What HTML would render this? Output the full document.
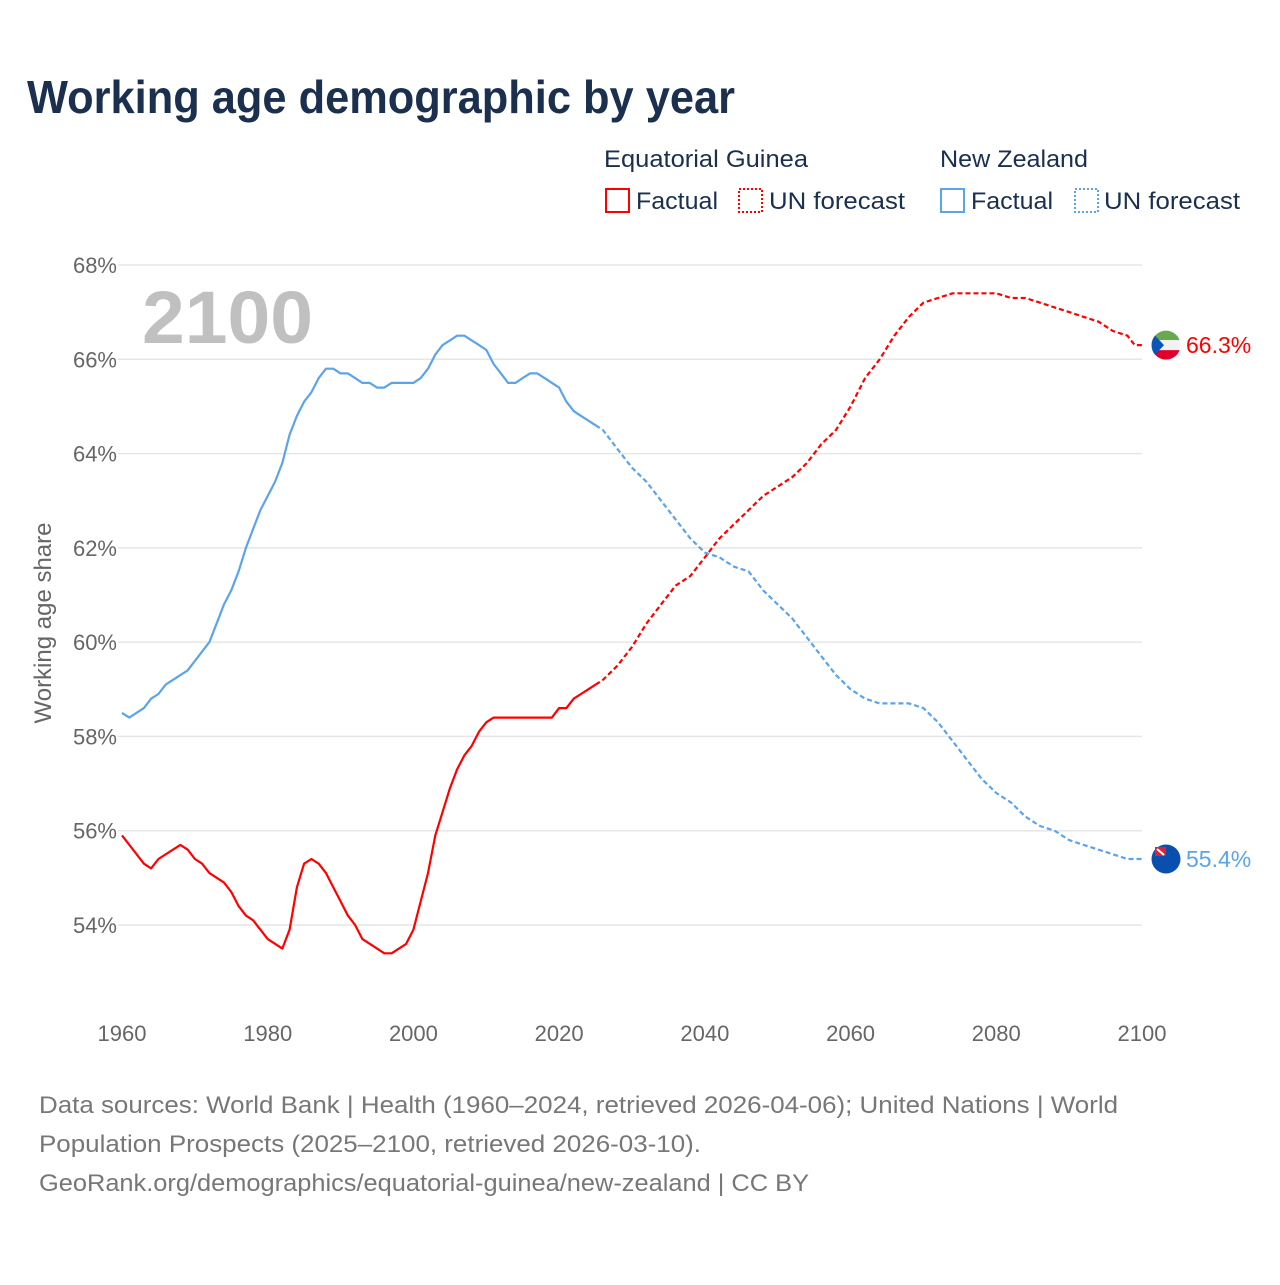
<!DOCTYPE html>
<html><head><meta charset="utf-8"><style>
html,body{margin:0;padding:0;background:#fff}
body{width:1280px;height:1280px;position:relative;font-family:"Liberation Sans",sans-serif;overflow:hidden}
</style></head><body>
<svg width="1280" height="1280" xmlns="http://www.w3.org/2000/svg" font-family="Liberation Sans, sans-serif">
<text x="27" y="113" font-size="46" font-weight="bold" fill="#1b2f4e" textLength="708" lengthAdjust="spacingAndGlyphs">Working age demographic by year</text>
<g font-size="24" fill="#1b2f4e">
<text x="604" y="167" textLength="204" lengthAdjust="spacingAndGlyphs">Equatorial Guinea</text>
<text x="940" y="167" textLength="148" lengthAdjust="spacingAndGlyphs">New Zealand</text>
<rect x="606" y="189" width="23" height="23" fill="none" stroke="#ff0000" stroke-width="2"/>
<text x="636" y="209" textLength="82" lengthAdjust="spacingAndGlyphs">Factual</text>
<rect x="739" y="189" width="23" height="23" fill="none" stroke="#ff0000" stroke-width="2" stroke-dasharray="2 2"/>
<text x="769" y="209" textLength="136" lengthAdjust="spacingAndGlyphs">UN forecast</text>
<rect x="941" y="189" width="23" height="23" fill="none" stroke="#5ba4ea" stroke-width="2"/>
<text x="971" y="209" textLength="82" lengthAdjust="spacingAndGlyphs">Factual</text>
<rect x="1075" y="189" width="23" height="23" fill="none" stroke="#5ba4ea" stroke-width="2" stroke-dasharray="2 2"/>
<text x="1104" y="209" textLength="136" lengthAdjust="spacingAndGlyphs">UN forecast</text>
</g>
<g id="grid"></g>
<text x="142" y="343" font-size="74" font-weight="bold" fill="#c0c0c0" textLength="171" lengthAdjust="spacingAndGlyphs">2100</text>
<text transform="translate(51,623) rotate(-90)" text-anchor="middle" font-size="24" fill="#666">Working age share</text>
<g id="series"></g>
<g id="endlabels"></g>
<g font-size="24" fill="#777">
<text x="39" y="1113" textLength="1079" lengthAdjust="spacingAndGlyphs">Data sources: World Bank | Health (1960–2024, retrieved 2026-04-06); United Nations | World</text>
<text x="39" y="1152" textLength="662" lengthAdjust="spacingAndGlyphs">Population Prospects (2025–2100, retrieved 2026-03-10).</text>
<text x="39" y="1191" textLength="770" lengthAdjust="spacingAndGlyphs">GeoRank.org/demographics/equatorial-guinea/new-zealand | CC BY</text>
</g>
</svg>
<script>
const yTicks=[54,56,58,60,62,64,66,68];
const xTicks=[1960,1980,2000,2020,2040,2060,2080,2100];
const egFactYears=[1960,1963,1964,1965,1968,1969,1970,1971,1972,1974,1975,1976,1977,1978,1980,1982,1983,1984,1985,1986,1987,1988,1991,1992,1993,1996,1997,1999,2000,2001,2002,2003,2004,2005,2006,2007,2008,2009,2010,2011,2019,2020,2021,2022,2023,2024,2025];
const egFactValues=[55.9,55.3,55.2,55.4,55.7,55.6,55.4,55.3,55.1,54.9,54.7,54.4,54.2,54.1,53.7,53.5,53.9,54.8,55.3,55.4,55.3,55.1,54.2,54.0,53.7,53.4,53.4,53.6,53.9,54.5,55.1,55.9,56.4,56.9,57.3,57.6,57.8,58.1,58.3,58.4,58.4,58.6,58.6,58.8,58.9,59.0,59.1];
const egFcYears=[2025,2026,2028,2030,2032,2034,2036,2038,2040,2042,2044,2046,2048,2050,2052,2054,2056,2058,2060,2062,2064,2066,2068,2070,2072,2074,2076,2078,2080,2082,2084,2086,2088,2090,2092,2094,2096,2098,2099,2100];
const egFcValues=[59.1,59.2,59.5,59.9,60.4,60.8,61.2,61.4,61.8,62.2,62.5,62.8,63.1,63.3,63.5,63.8,64.2,64.5,65.0,65.6,66.0,66.5,66.9,67.2,67.3,67.4,67.4,67.4,67.4,67.3,67.3,67.2,67.1,67.0,66.9,66.8,66.6,66.5,66.3,66.3];
const nzFactYears=[1960,1961,1963,1964,1965,1966,1969,1972,1973,1974,1975,1976,1977,1978,1979,1980,1981,1982,1983,1984,1985,1986,1987,1988,1989,1990,1991,1992,1993,1994,1995,1996,1997,2000,2001,2002,2003,2004,2005,2006,2007,2008,2009,2010,2011,2012,2013,2014,2015,2016,2017,2018,2019,2020,2021,2022,2023,2024,2025];
const nzFactValues=[58.5,58.4,58.6,58.8,58.9,59.1,59.4,60.0,60.4,60.8,61.1,61.5,62.0,62.4,62.8,63.1,63.4,63.8,64.4,64.8,65.1,65.3,65.6,65.8,65.8,65.7,65.7,65.6,65.5,65.5,65.4,65.4,65.5,65.5,65.6,65.8,66.1,66.3,66.4,66.5,66.5,66.4,66.3,66.2,65.9,65.7,65.5,65.5,65.6,65.7,65.7,65.6,65.5,65.4,65.1,64.9,64.8,64.7,64.6];
const nzFcYears=[2025,2026,2028,2030,2032,2034,2036,2038,2040,2042,2044,2046,2048,2050,2052,2054,2056,2058,2060,2062,2064,2066,2068,2070,2072,2074,2076,2078,2080,2082,2084,2086,2088,2090,2092,2094,2096,2098,2100];
const nzFcValues=[64.6,64.5,64.1,63.7,63.4,63.0,62.6,62.2,61.9,61.8,61.6,61.5,61.1,60.8,60.5,60.1,59.7,59.3,59.0,58.8,58.7,58.7,58.7,58.6,58.3,57.9,57.5,57.1,56.8,56.6,56.3,56.1,56.0,55.8,55.7,55.6,55.5,55.4,55.4];
const endValues=[66.3,55.4];

const NS="http://www.w3.org/2000/svg";
const xS=y=>122+(y-1960)*(1020/140);
const yS=v=>265+(68-v)*(660/14);
function mk(tag,attrs,parent){const e=document.createElementNS(NS,tag);for(const k in attrs)e.setAttribute(k,attrs[k]);parent.appendChild(e);return e;}
const grid=document.getElementById('grid');
yTicks.forEach(t=>{
  const l=mk('line',{x1:118,x2:1142,y1:yS(t),y2:yS(t),stroke:'#e6e6e6','stroke-width':1.5},grid);
  
  
  const tx=mk('text',{x:117,y:yS(t)+8,'text-anchor':'end','font-size':22,fill:'#666'},grid);
  tx.textContent=t+'%';
  
  
});
xTicks.forEach(t=>{
  const tx=mk('text',{x:xS(t),y:1041,'text-anchor':'middle','font-size':22,fill:'#666'},grid);
  tx.textContent=t;
  
  
});
const sg=document.getElementById('series');
function line(ys,vs,color,dash,name){
  const d=ys.map((y,i)=>(i?'L':'M')+xS(y).toFixed(1)+','+yS(vs[i]).toFixed(1)).join('');
  const p=mk('path',{d:d,fill:'none',stroke:color,'stroke-width':2.2,'stroke-linejoin':'round'},sg);
  if(dash)p.setAttribute('stroke-dasharray','5 3');
  
  
}
line(egFactYears,egFactValues,'#ff0000',false,'eg-factual-line');
line(egFcYears,egFcValues,'#ff0000',true,'eg-forecast-line');
line(nzFactYears,nzFactValues,'#5ba4ea',false,'nz-factual-line');
line(nzFcYears,nzFcValues,'#5ba4ea',true,'nz-forecast-line');
const el=document.getElementById('endlabels');
let cy=yS(endValues[0]);
const fg=mk('g',{},el);


const cp=mk('clipPath',{id:'c1'},fg);
mk('circle',{cx:1166,cy:cy,r:14.5},cp);
const g1=mk('g',{'clip-path':'url(#c1)'},fg);
mk('rect',{x:1150,y:cy-15,width:32,height:10,fill:'#6aa84f'},g1);
mk('rect',{x:1150,y:cy-5,width:32,height:10,fill:'#f2f2f2'},g1);
mk('rect',{x:1150,y:cy+5,width:32,height:10,fill:'#e0002a'},g1);
mk('polygon',{points:`1150,${cy-15} 1164,${cy} 1150,${cy+15}`,fill:'#0a55b8'},g1);
let t1=mk('text',{x:1186,y:cy+8,'font-size':23,fill:'#ff0000'},el);
t1.textContent=endValues[0]+'%';


cy=yS(endValues[1]);
const fg2=mk('g',{},el);


mk('circle',{cx:1166,cy:cy,r:14.5,fill:'#0b4fae'},fg2);
mk('rect',{x:1155,y:cy-12,width:11,height:9,fill:'#d8243b'},fg2);
mk('path',{d:`M1157,${cy-10}L1164,${cy-4}`,stroke:'#fff','stroke-width':2},fg2);
let t2=mk('text',{x:1186,y:cy+8,'font-size':23,fill:'#5ba4ea'},el);
t2.textContent=endValues[1]+'%';


</script>
</body></html>
